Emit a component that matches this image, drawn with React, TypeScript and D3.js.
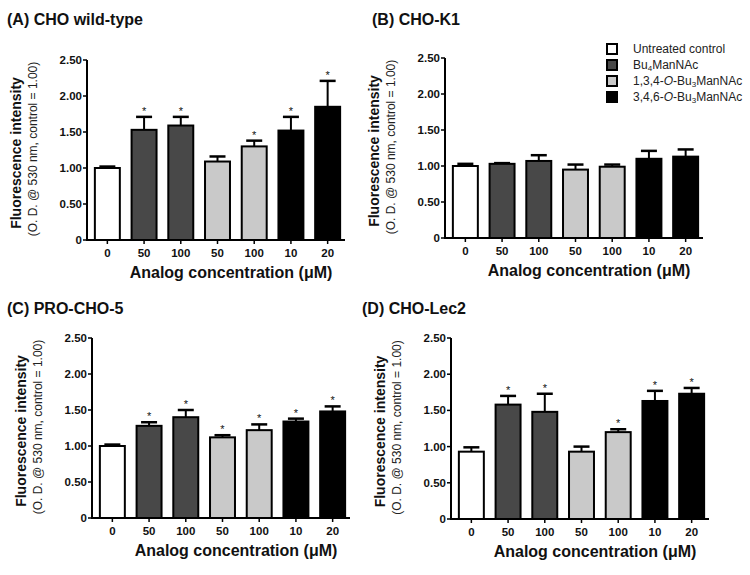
import * as d3 from 'd3';

const categories = ['0', '50', '100', '50', '100', '10', '20'];
const treatments = ['control', 'bu4', 'bu4', 'o134', 'o134', 'o346', 'o346'];
const yTickValues = [0, 0.5, 1, 1.5, 2, 2.5];

const meansA = [1.0, 1.53, 1.59, 1.09, 1.3, 1.52, 1.85];
const errA = [0.02, 0.18, 0.12, 0.07, 0.08, 0.19, 0.36];
const starsA = [false, true, true, false, true, true, true];

const meansB = [1.0, 1.03, 1.07, 0.95, 0.99, 1.1, 1.13];
const errB = [0.03, 0.01, 0.08, 0.07, 0.03, 0.11, 0.1];
const starsB = [false, false, false, false, false, false, false];

const meansC = [1.0, 1.28, 1.4, 1.12, 1.22, 1.34, 1.48];
const errC = [0.02, 0.05, 0.1, 0.03, 0.08, 0.04, 0.07];
const starsC = [false, true, true, true, true, true, true];

const meansD = [0.93, 1.58, 1.48, 0.93, 1.2, 1.63, 1.73];
const errD = [0.06, 0.12, 0.25, 0.07, 0.04, 0.14, 0.08];
const starsD = [false, true, true, false, true, true, true];

const fills: Record<string, string> = {
  control: '#ffffff',
  bu4: '#484848',
  o134: '#c9c9c9',
  o346: '#000000',
};

const FONT = "'Liberation Sans', Arial, Helvetica, sans-serif";

type PanelProps = {
  title: string;
  titleX: number;
  titleY: number;
  axisX: number;
  top: number;
  zero: number;
  means: number[];
  errs: number[];
  stars: boolean[];
};

function Panel({ title, titleX, titleY, axisX, top, zero, means, errs, stars }: PanelProps) {
  const axisLen = 258;
  const y = d3.scaleLinear().domain([0, 2.5]).range([zero, top]);
  const x = d3
    .scaleBand<number>()
    .domain(d3.range(categories.length))
    .range([axisX + 2, axisX + axisLen + 1])
    .paddingInner(0.32)
    .paddingOuter(0.16);
  const bw = x.bandwidth();
  const midY = (top + zero) / 2;

  return (
    <g fontFamily={FONT}>
      <text x={titleX} y={titleY} fontSize={16} fontWeight="bold" fill="#111">
        {title}
      </text>
      {/* y axis title, two lines */}
      <text
        transform={`translate(${axisX - 66},${midY + 3}) rotate(-90)`}
        textAnchor="middle"
        fontSize={14}
        fontWeight="bold"
        fill="#111"
      >
        Fluorescence intensity
      </text>
      <text
        transform={`translate(${axisX - 50},${midY - 1}) rotate(-90)`}
        textAnchor="middle"
        fontSize={12}
        fill="#222"
      >
        (O. D. @ 530 nm, control = 1.00)
      </text>

      {means.map((m, i) => {
        const cx = (x(i) ?? 0) + bw / 2;
        const errTop = y(m + errs[i]);
        return (
          <g key={i}>
            <line x1={cx} x2={cx} y1={y(m)} y2={errTop} stroke="#000" strokeWidth={2} />
            <line x1={cx - 8} x2={cx + 8} y1={errTop} y2={errTop} stroke="#000" strokeWidth={2.5} />
            <rect
              x={x(i)}
              y={y(m)}
              width={bw}
              height={zero - y(m)}
              fill={fills[treatments[i]]}
              stroke="#000"
              strokeWidth={2}
            />
            {stars[i] && (
              <text x={cx} y={errTop - 2} textAnchor="middle" fontSize={11} fill="#111">
                *
              </text>
            )}
            <line x1={cx} x2={cx} y1={zero} y2={zero + 4} stroke="#000" strokeWidth={1.5} />
            <text x={cx} y={zero + 17} textAnchor="middle" fontSize={11.5} fontWeight="bold" fill="#111">
              {categories[i]}
            </text>
          </g>
        );
      })}

      {/* axes */}
      <line x1={axisX} x2={axisX} y1={top} y2={zero} stroke="#000" strokeWidth={2} />
      <line x1={axisX - 1} x2={axisX + axisLen} y1={zero} y2={zero} stroke="#000" strokeWidth={2} />
      {yTickValues.map((t) => (
        <g key={t}>
          <line x1={axisX - 4} x2={axisX} y1={y(t)} y2={y(t)} stroke="#000" strokeWidth={1.5} />
          <text
            x={axisX - 5}
            y={y(t) + 4}
            textAnchor="end"
            fontSize={11.5}
            fontWeight="bold"
            fill="#111"
          >
            {t === 0 ? '0' : t.toFixed(2)}
          </text>
        </g>
      ))}
      <text x={axisX + 144} y={zero + 38} textAnchor="middle" fontSize={16} fontWeight="bold" fill="#111">
        Analog concentration (μM)
      </text>
    </g>
  );
}

const legendItems = [
  { key: 'control', parts: [{ t: 'Untreated control' }] },
  { key: 'bu4', parts: [{ t: 'Bu' }, { t: '4', sub: true }, { t: 'ManNAc' }] },
  {
    key: 'o134',
    parts: [{ t: '1,3,4-' }, { t: 'O', it: true }, { t: '-Bu' }, { t: '3', sub: true }, { t: 'ManNAc' }],
  },
  {
    key: 'o346',
    parts: [{ t: '3,4,6-' }, { t: 'O', it: true }, { t: '-Bu' }, { t: '3', sub: true }, { t: 'ManNAc' }],
  },
];

function Legend() {
  const rowY = d3.scalePoint<string>().domain(legendItems.map((d) => d.key)).range([49, 97]);
  return (
    <g fontFamily={FONT}>
      {legendItems.map((d) => {
        const cy = rowY(d.key) ?? 0;
        return (
          <g key={d.key}>
            <rect x={607} y={cy - 5} width={10} height={10} fill={fills[d.key]} stroke="#000" strokeWidth={2} />
            <text x={633} y={cy + 4} fontSize={12} fill="#222">
              {d.parts.map((p: any, j: number) => (
                <tspan
                  key={j}
                  fontStyle={p.it ? 'italic' : undefined}
                  fontSize={p.sub ? 8 : undefined}
                  dy={p.sub ? 2 : j > 0 && (d.parts[j - 1] as any).sub ? -2 : undefined}
                >
                  {p.t}
                </tspan>
              ))}
            </text>
          </g>
        );
      })}
    </g>
  );
}

export default function App() {
  return (
    <div style={{ position: 'absolute', left: 0, top: 0 }}>
      <svg width={750} height={575} viewBox="0 0 750 575" style={{ display: 'block', background: '#fff' }}>
        <rect width={750} height={575} fill="#fff" />
        <Panel title="(A) CHO wild-type" titleX={7} titleY={25} axisX={87} top={60} zero={240} means={meansA} errs={errA} stars={starsA} />
        <Panel title="(B) CHO-K1" titleX={372} titleY={25} axisX={445} top={58} zero={238} means={meansB} errs={errB} stars={starsB} />
        <Panel title="(C) PRO-CHO-5" titleX={7} titleY={314} axisX={92} top={338} zero={518} means={meansC} errs={errC} stars={starsC} />
        <Panel title="(D) CHO-Lec2" titleX={362} titleY={314} axisX={451} top={338} zero={519} means={meansD} errs={errD} stars={starsD} />
        <Legend />
      </svg>
    </div>
  );
}
